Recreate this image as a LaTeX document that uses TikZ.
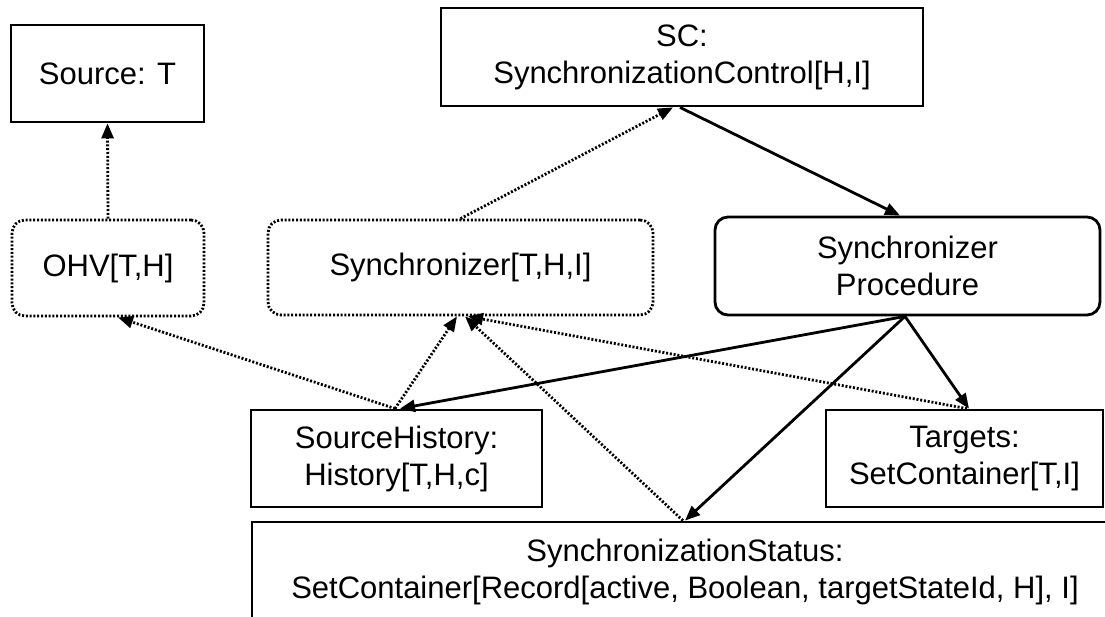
\documentclass[tikz,border=0pt]{standalone}
\usepackage{fontspec}
\setmainfont{Liberation Sans}
\usetikzlibrary{arrows.meta}

\tikzset{
  every node/.style={font=\fontsize{31}{37}\selectfont, align=center, inner sep=0pt},
  plainbox/.style={draw, line width=2.8pt},
  procbox/.style={draw, line width=2.8pt, rounded corners=13pt},
  viewbox/.style={draw, line width=2.8pt, rounded corners=13pt, dash pattern=on 2pt off 1.8pt},
  uses/.style={line width=2.8pt, -{Triangle[length=15pt,width=12pt]}},
  refers/.style={line width=2.8pt, dash pattern=on 2pt off 1.8pt, -{Triangle[length=15pt,width=12pt]}}
}

\begin{document}
\begin{tikzpicture}[x=1pt, y=-1pt]
  \useasboundingbox (0,0) rectangle (1105,617);
  \clip (0,0) rectangle (1105,617);

  % components
  \node[plainbox, minimum width=193pt, minimum height=97pt] (src) at (107.5,73.5) {Source: T};
  \node[plainbox, minimum width=482pt, minimum height=98pt] (sc) at (682,57) {SC:\\SynchronizationControl[H,I]};
  \node[viewbox, minimum width=192pt, minimum height=96pt] (ohv) at (108,268) {OHV[T,H]};
  \node[viewbox, minimum width=385pt, minimum height=95pt] (sync) at (460.5,267.5) {Synchronizer[T,H,I]};
  \node[procbox, minimum width=385pt, minimum height=98pt] (proc) at (907.5,266) {Synchronizer\\Procedure};
  \node[plainbox, minimum width=291pt, minimum height=97pt] (sh) at (396.5,458.5) {SourceHistory:\\History[T,H,c]};
  \node[plainbox, minimum width=277pt, minimum height=97pt] (tg) at (964.5,458.5) {Targets:\\SetContainer[T,I]};
  \node[plainbox, minimum width=866pt, minimum height=100pt] (sstat) at (685,572)
    {SynchronizationStatus:\\SetContainer[Record[active, Boolean, targetStateId, H], I]};

  % control flow
  \draw[uses] ([xshift=-2pt]sc.south) -- ([xshift=-7.5pt]proc.north);
  \draw[uses] ([xshift=-2.5pt]proc.south) -- ([xshift=3.5pt]sh.north);
  \draw[uses] ([xshift=-2.5pt]proc.south) -- ([xshift=4.5pt]tg.north);
  \draw[uses] ([xshift=-2.5pt]proc.south) -- (sstat.north);

  % references
  \draw[refers] (ohv.north) -- (src.south);
  \draw[refers] (sync.north) -- ([xshift=-9pt]sc.south);
  \draw[refers] ([xshift=-1.5pt]sh.north) -- ([xshift=10pt]ohv.south);
  \draw[refers] ([xshift=-1.5pt]sh.north) -- ([xshift=-3.5pt]sync.south);
  \draw[refers] ([xshift=-2pt]sstat.north) -- ([xshift=4.5pt]sync.south);
  \draw[refers] ([xshift=2.5pt]tg.north) -- ([xshift=7.5pt]sync.south);
\end{tikzpicture}
\end{document}
